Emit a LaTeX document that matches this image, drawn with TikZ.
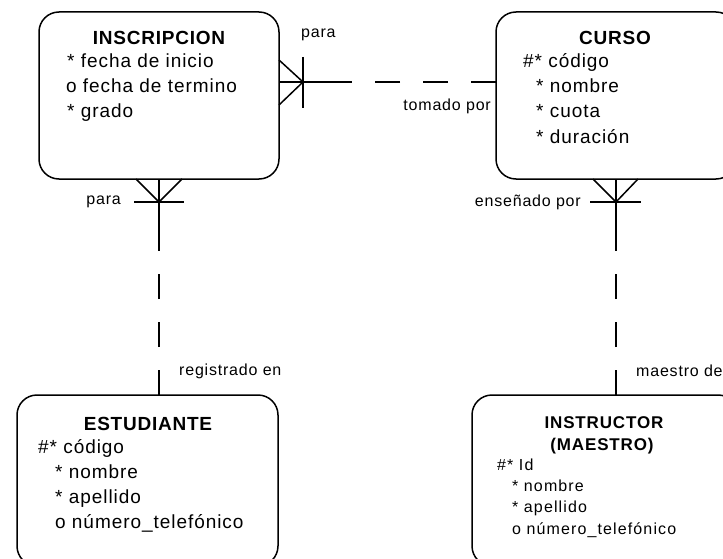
\documentclass[tikz,border=0pt]{standalone}
\usepackage{fontspec}
\setmainfont{Liberation Sans}
\newfontfamily\titlefont[LetterSpace=4]{Liberation Sans Bold}
\newfontfamily\attrfont[LetterSpace=5]{Liberation Sans}
\newfontfamily\smallattrfont[LetterSpace=7]{Liberation Sans}
\newfontfamily\smalltitlefont[LetterSpace=5]{Liberation Sans Bold}
\newfontfamily\lblfont[LetterSpace=5]{Liberation Sans}
\usetikzlibrary{calc}
\begin{document}
\begin{tikzpicture}[x=1pt,y=-1pt,
  entity/.style={draw, line width=1.5pt, rounded corners=20pt, inner sep=0pt, outer sep=0pt},
  rel/.style={line width=1.5pt},
  dashrel/.style={line width=1.5pt, dash pattern=on 25pt off 23pt},
  etitle/.style={anchor=base, inner sep=0pt, font=\titlefont\fontsize{19}{21}\selectfont},
  stitle/.style={anchor=base, inner sep=0pt, font=\smalltitlefont\fontsize{17}{19}\selectfont},
  attr/.style={anchor=base west, inner sep=0pt, font=\attrfont\fontsize{19}{21}\selectfont},
  sattr/.style={anchor=base west, inner sep=0pt, font=\smallattrfont\fontsize{16}{18}\selectfont},
  lbl/.style={inner sep=0pt, font=\lblfont\fontsize{16}{18}\selectfont}]
\fill[white] (0,0) rectangle (723,559);
\useasboundingbox (0,0) rectangle (723,559);
\clip (0,0) rectangle (723,559);

% entities
\node[entity, minimum width=240pt, minimum height=167pt] (ins) at (159,95.5) {};
\node[entity, minimum width=240pt, minimum height=167pt] (cur) at (616,95.5) {};
\node[entity, minimum width=261pt, minimum height=171pt] (est) at (147.5,480.5) {};
\node[entity, minimum width=266pt, minimum height=171pt] (inst) at (605,480.5) {};

% INSCRIPCION
\node[etitle] (insT) at (159,45) {INSCRIPCION};
\node[attr] (insA1) at (67,68) {* fecha de inicio};
\node[attr] (insA2) at (66,93) {o fecha de termino};
\node[attr] (insA3) at (67,118) {* grado};

% CURSO
\node[etitle] (curT) at (615,45) {CURSO};
\node[attr] (curA1) at (523,68) {\#* código};
\node[attr] (curA2) at (536,93) {* nombre};
\node[attr] (curA3) at (536,118) {* cuota};
\node[attr] (curA4) at (536,144) {* duración};

% ESTUDIANTE
\node[etitle] (estT) at (148,430) {ESTUDIANTE};
\node[attr] (estA1) at (38,453) {\#* código};
\node[attr] (estA2) at (55,478) {* nombre};
\node[attr] (estA3) at (55,503) {* apellido};
\node[attr] (estA4) at (55,528) {o número\_telefónico};

% INSTRUCTOR
\node[stitle] (instT1) at (604,428) {INSTRUCTOR};
\node[stitle] (instT2) at (602,450) {(MAESTRO)};
\node[sattr] (instA1) at (497,470) {\#* Id};
\node[sattr] (instA2) at (512,491) {* nombre};
\node[sattr] (instA3) at (512,512) {* apellido};
\node[sattr] (instA4) at (512,534) {o número\_telefónico};

% relationship INSCRIPCION - CURSO
\coordinate (f1) at (303,82);
\coordinate (b1) at (352,82);
\draw[rel] (ins.east |- f1) -- (b1);
\draw[dashrel] (cur.west |- f1) -- (b1);
\draw[rel] ($(ins.east |- f1)+(0,-22)$) -- (f1) -- ($(ins.east |- f1)+(0,23)$);
\draw[rel] ($(f1)+(0,-25)$) -- ($(f1)+(0,26)$);
\fill (f1) circle (1.5pt);

% relationship INSCRIPCION - ESTUDIANTE
\coordinate (f2) at (159,202);
\coordinate (b2) at (159,251);
\draw[rel] (ins.south -| f2) -- (b2);
\draw[dashrel] (est.north -| f2) -- (b2);
\draw[rel] ($(ins.south -| f2)+(-23,0)$) -- (f2) -- ($(ins.south -| f2)+(23,0)$);
\draw[rel] ($(f2)+(-25,0)$) -- ($(f2)+(25,0)$);
\fill (f2) circle (1.5pt);

% relationship CURSO - INSTRUCTOR
\coordinate (f3) at (616,202);
\coordinate (b3) at (616,251);
\draw[rel] (cur.south -| f3) -- (b3);
\draw[dashrel] (inst.north -| f3) -- (b3);
\draw[rel] ($(cur.south -| f3)+(-23,0)$) -- (f3) -- ($(cur.south -| f3)+(22,0)$);
\draw[rel] ($(f3)+(-26,0)$) -- ($(f3)+(25,0)$);
\fill (f3) circle (1.5pt);

% labels
\node[lbl, anchor=west] (l1) at (301,35) {para};
\node[lbl, anchor=east] (l2) at (491,106) {tomado por};
\node[lbl, anchor=east] (l3) at (121,202) {para};
\node[lbl, anchor=east] (l4) at (581,202) {enseñado por};
\node[lbl, anchor=west] (l5) at (179,371) {registrado en};
\node[lbl, anchor=west] (l6) at (636,371) {maestro de};
\end{tikzpicture}
\end{document}
